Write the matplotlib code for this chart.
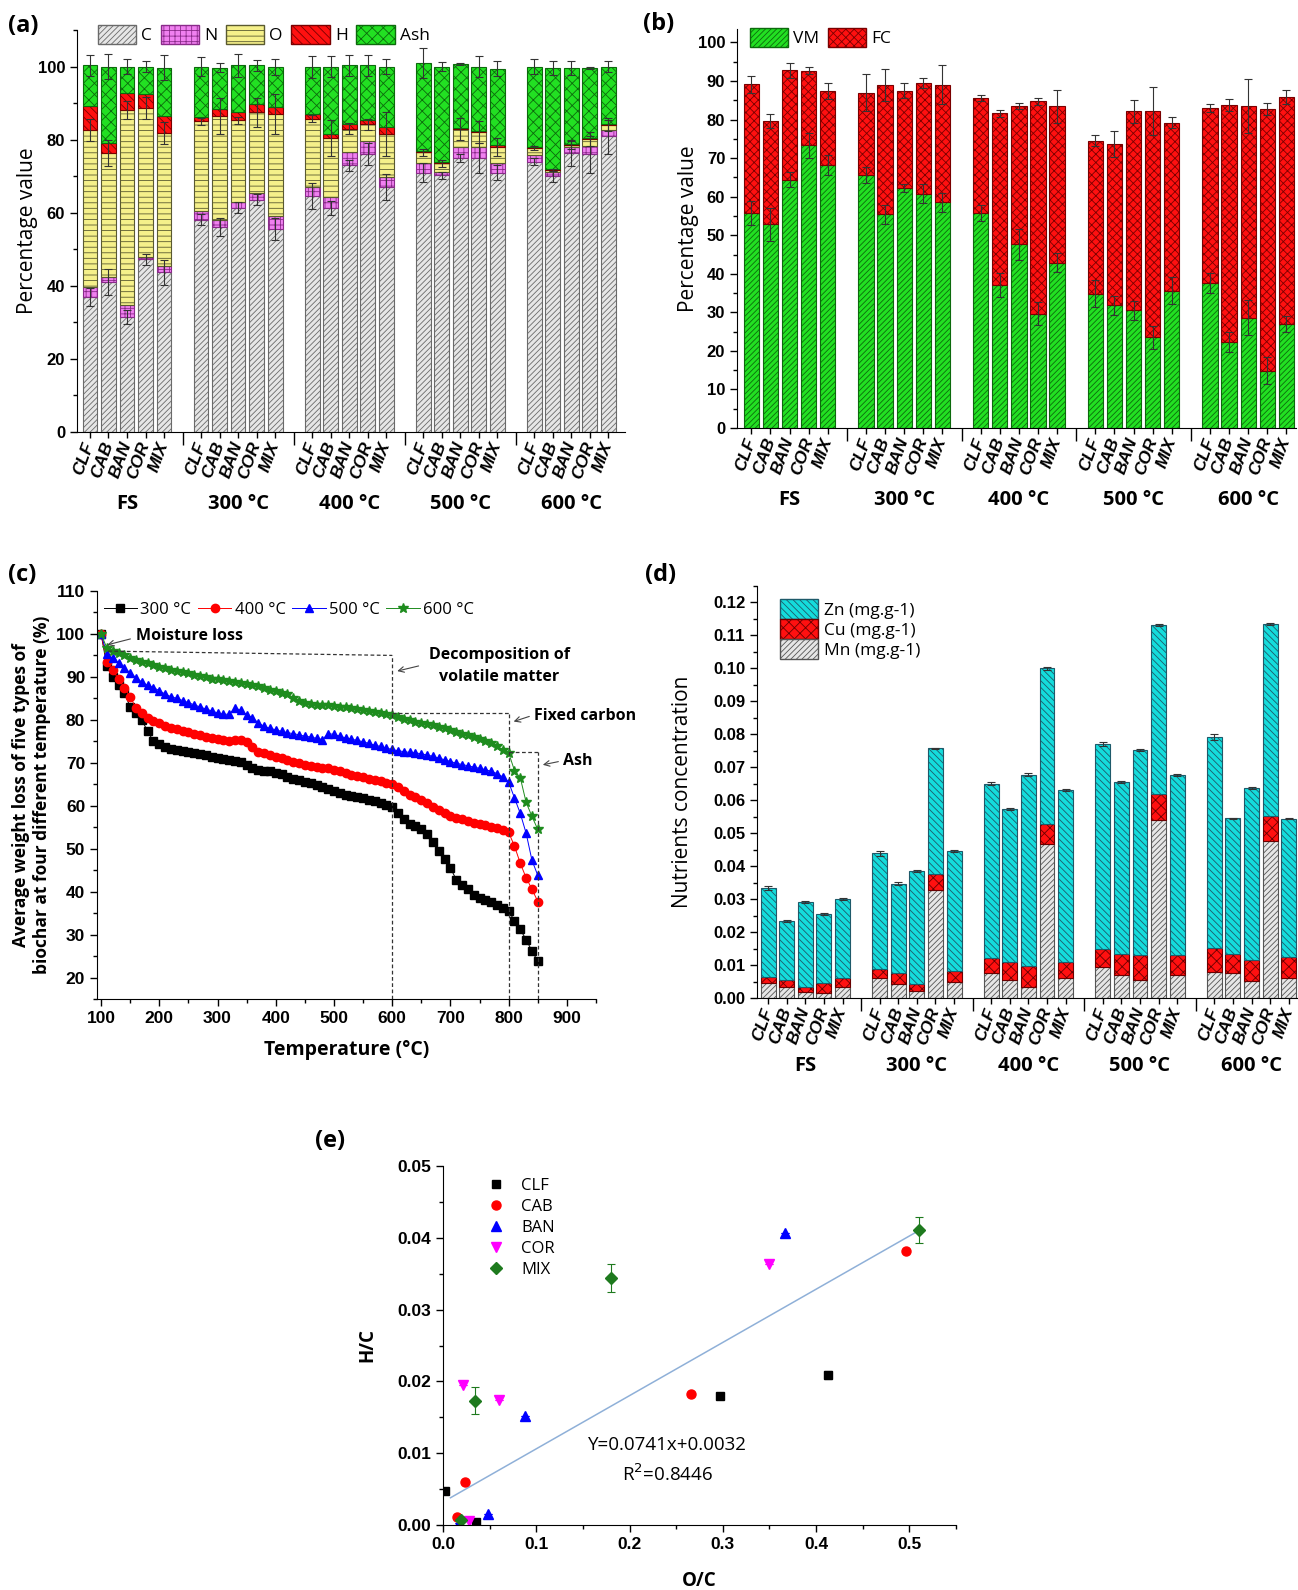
import matplotlib

matplotlib.use("Agg")

import matplotlib.pyplot as plt
import numpy as np
from matplotlib.lines import Line2D
from matplotlib.patches import Patch
from matplotlib.ticker import FormatStrFormatter, MultipleLocator

plt.rcParams["font.family"] = ["Open Sans", "DejaVu Sans"]
plt.rcParams["hatch.linewidth"] = 0.6

W, H = 1298, 1590

grupos = ["FS", "300 °C", "400 °C", "500 °C", "600 °C"]
muestras = ["CLF", "CAB", "BAN", "COR", "MIX"]

# (a) composicion elemental (%), orden: FS, 300, 400, 500, 600
a_C = [37.0, 41.0, 31.5, 47.3, 43.7, 58.1, 56.0, 61.3, 63.5, 55.5,
       64.5, 61.3, 73.0, 76.0, 67.0, 71.0, 70.2, 75.0, 75.0, 71.0,
       74.0, 70.0, 76.3, 76.0, 81.0]
a_N = [2.7, 1.4, 3.2, 0.6, 1.6, 2.4, 2.0, 1.7, 1.9, 3.5,
       2.5, 3.0, 3.5, 3.6, 2.8, 2.5, 1.0, 2.9, 3.0, 2.5,
       1.8, 1.2, 1.6, 2.2, 1.6]
a_O = [43.0, 33.9, 53.5, 40.7, 36.5, 24.5, 28.5, 22.3, 22.1, 28.0,
       18.7, 16.2, 6.5, 4.6, 11.7, 3.0, 2.3, 5.0, 4.2, 4.5,
       2.0, 0.6, 0.6, 2.0, 1.4]
a_H = [6.5, 2.9, 4.5, 3.8, 4.7, 1.3, 2.0, 2.3, 2.3, 2.0,
       1.3, 1.1, 1.2, 1.3, 2.0, 0.4, 0.3, 0.2, 0.3, 0.4,
       0.3, 0.3, 0.4, 0.3, 0.3]
a_ash = [11.1, 20.8, 7.3, 7.6, 13.2, 13.7, 11.2, 12.7, 10.5, 11.0,
         13.0, 18.4, 16.1, 14.8, 16.5, 24.1, 26.2, 17.7, 17.5, 21.0,
         21.9, 27.5, 20.7, 19.2, 15.7]
a_err_C = [2.5, 3.5, 2.0, 1.5, 3.5, 1.5, 2.5, 1.5, 1.5, 3.0,
           3.5, 2.0, 1.5, 3.0, 3.5, 2.5, 1.0, 1.0, 4.0, 2.0,
           1.0, 1.5, 3.5, 5.0, 5.0]
a_err_O = [3.0, 3.5, 2.5, 3.0, 3.0, 1.0, 5.0, 1.0, 4.0, 5.5,
           1.0, 5.0, 1.5, 1.5, 6.0, 1.0, 1.0, 3.0, 3.0, 2.5,
           0.5, 0.3, 1.0, 2.0, 1.5]
a_err_tot = [2.8, 3.3, 2.0, 1.5, 3.5, 2.5, 1.2, 3.2, 1.5, 2.2,
             3.0, 2.8, 2.8, 2.8, 2.0, 4.0, 1.2, 0.3, 2.8, 2.0,
             2.0, 2.0, 2.0, 0.3, 1.5]

# (b) analisis proximo (%)
b_VM = [55.8, 52.8, 64.4, 73.3, 68.2, 65.6, 55.4, 62.3, 60.8, 58.5,
        55.8, 37.1, 47.6, 29.6, 42.9, 34.8, 31.8, 30.5, 23.5, 35.6,
        37.6, 22.3, 28.6, 14.8, 27.0]
b_FC = [33.4, 26.9, 28.4, 19.4, 19.2, 21.4, 33.5, 25.2, 28.7, 30.6,
        29.9, 44.5, 36.0, 55.1, 40.5, 39.7, 41.9, 51.7, 58.8, 43.6,
        45.4, 61.5, 55.0, 67.9, 58.8]
b_err_VM = [3.2, 4.2, 2.0, 3.2, 2.5, 2.0, 2.5, 1.0, 2.5, 2.5,
            2.0, 3.0, 4.0, 3.0, 2.5, 3.5, 2.5, 2.5, 3.0, 3.5,
            2.5, 2.5, 4.5, 3.5, 2.0]
b_err_tot = [2.2, 1.8, 1.9, 1.0, 2.1, 4.8, 4.2, 2.0, 1.3, 5.0,
             0.8, 0.8, 0.8, 0.8, 4.3, 1.4, 3.3, 3.0, 6.2, 1.5,
             1.0, 1.5, 7.0, 1.6, 1.8]

# (c) perdida de peso promedio (%) cada 10 °C
temperatura = list(range(100, 860, 10))
tg_300 = [100.0, 92.5, 90.0, 88.2, 86.3, 83.0, 81.5, 80.0, 77.3, 75.0,
          74.3, 73.7, 73.3, 73.0, 72.8, 72.6, 72.3, 72.0, 71.7, 71.4,
          71.0, 70.8, 70.6, 70.4, 70.2, 69.6, 68.8, 68.4, 68.2, 68.0,
          67.7, 67.3, 66.8, 66.3, 66.0, 65.6, 65.2, 64.8, 64.4, 64.0,
          63.4, 62.9, 62.6, 62.3, 62.0, 61.7, 61.3, 61.0, 60.6, 60.2,
          59.6, 58.2, 57.0, 55.8, 55.2, 54.5, 53.5, 51.5, 49.5, 47.5,
          45.5, 42.8, 41.5, 40.5, 39.2, 38.5, 38.0, 37.6, 37.0, 36.3,
          35.5, 33.2, 31.2, 28.8, 26.2, 23.8]
tg_400 = [100.0, 93.5, 91.5, 89.5, 87.5, 85.3, 82.8, 81.5, 80.5, 79.8,
          79.2, 78.6, 78.2, 77.8, 77.5, 77.2, 76.8, 76.4, 76.1, 75.8,
          75.5, 75.3, 75.1, 75.4, 75.4, 74.8, 73.6, 72.6, 72.2, 71.8,
          71.4, 71.0, 70.6, 70.2, 69.9, 69.6, 69.3, 69.1, 68.9, 68.7,
          68.4, 68.0, 67.6, 67.2, 66.9, 66.6, 66.3, 66.0, 65.7, 65.4,
          65.0, 64.3, 63.4, 62.6, 62.0, 61.4, 60.6, 59.8, 59.0, 58.3,
          57.7, 57.2, 56.8, 56.4, 56.0, 55.7, 55.4, 55.1, 54.8, 54.4,
          53.8, 50.6, 46.6, 43.2, 40.6, 37.7]
tg_500 = [100.0, 95.3, 94.3, 93.3, 92.0, 91.0, 89.8, 88.8, 88.0, 87.5,
          86.8, 86.0, 85.4, 85.0, 84.5, 84.0, 83.5, 83.0, 82.5, 82.1,
          81.6, 81.3, 81.3, 82.8, 82.2, 81.2, 80.5, 79.3, 78.5, 78.0,
          77.7, 77.3, 77.0, 76.8, 76.5, 76.2, 76.0, 75.7, 75.4, 76.8,
          76.6, 76.2, 75.8, 75.5, 75.2, 74.9, 74.5, 74.1, 73.8, 73.4,
          73.1, 72.8, 72.6, 72.4, 72.3, 72.1, 71.8, 71.5, 71.1, 70.7,
          70.3, 69.9, 69.6, 69.3, 69.0, 68.7, 68.4, 68.0, 67.5, 66.7,
          65.5, 61.8, 58.2, 53.6, 47.3, 43.8]
tg_600 = [100.0, 96.7, 96.0, 95.5, 95.0, 94.5, 94.0, 93.5, 93.2, 92.8,
          92.4, 92.0, 91.7, 91.4, 91.1, 90.8, 90.5, 90.2, 89.9, 89.6,
          89.4, 89.2, 89.0, 88.8, 88.6, 88.4, 88.2, 87.8, 87.4, 87.0,
          86.7, 86.3, 86.0, 85.2, 84.3, 84.0, 83.7, 83.5, 83.4, 83.4,
          83.3, 83.1, 82.9, 82.7, 82.5, 82.3, 82.1, 81.9, 81.7, 81.4,
          81.1, 80.7, 80.3, 79.9, 79.6, 79.3, 79.0, 78.7, 78.4, 78.0,
          77.6, 77.2, 76.8, 76.4, 76.0, 75.6, 75.1, 74.5, 73.8, 73.0,
          72.3, 68.2, 66.5, 60.8, 57.5, 54.5]
etapas_T = [600, 800, 850]
etapas_nivel = [95.0, 81.5, 72.6]

# (d) nutrientes (mg/g)
d_Mn = [0.0047, 0.0032, 0.0017, 0.0014, 0.0034, 0.0060, 0.0041, 0.0021, 0.0328, 0.0049,
        0.0077, 0.0054, 0.0033, 0.0468, 0.0061, 0.0095, 0.0070, 0.0056, 0.0539, 0.0070,
        0.0079, 0.0076, 0.0052, 0.0477, 0.0060]
d_Cu = [0.0018, 0.0023, 0.0015, 0.0031, 0.0026, 0.0027, 0.0034, 0.0022, 0.0049, 0.0034,
        0.0043, 0.0056, 0.0064, 0.0060, 0.0047, 0.0055, 0.0062, 0.0074, 0.0081, 0.0059,
        0.0072, 0.0059, 0.0064, 0.0076, 0.0065]
d_Zn = [0.0270, 0.0180, 0.0258, 0.0210, 0.0240, 0.0352, 0.0272, 0.0343, 0.0380, 0.0363,
        0.0530, 0.0463, 0.0581, 0.0472, 0.0523, 0.0621, 0.0523, 0.0621, 0.0511, 0.0548,
        0.0642, 0.0410, 0.0521, 0.0581, 0.0419]
d_err = [0.0006, 0.0003, 0.0003, 0.0003, 0.0003, 0.0007, 0.0004, 0.0003, 0.0003, 0.0003,
         0.0004, 0.0003, 0.0004, 0.0004, 0.0003, 0.0005, 0.0003, 0.0003, 0.0003, 0.0003,
         0.0009, 0.0002, 0.0003, 0.0003, 0.0002]

# (e) diagrama de van Krevelen
e_series = ["CLF", "CAB", "BAN", "COR", "MIX"]
e_OC = {"CLF": [0.002, 0.035, 0.297, 0.413],
        "CAB": [0.015, 0.024, 0.266, 0.496],
        "BAN": [0.017, 0.048, 0.088, 0.367],
        "COR": [0.021, 0.028, 0.060, 0.350],
        "MIX": [0.019, 0.034, 0.180, 0.510]}
e_HC = {"CLF": [0.0047, 0.0004, 0.0180, 0.0209],
        "CAB": [0.0011, 0.0060, 0.0182, 0.0381],
        "BAN": [0.0003, 0.0016, 0.0152, 0.0406],
        "COR": [0.0195, 0.0005, 0.0174, 0.0363],
        "MIX": [0.0007, 0.0173, 0.0344, 0.0411]}
e_err = {"CLF": [0, 0, 0.0003, 0.0005],
         "CAB": [0, 0, 0.0003, 0],
         "BAN": [0, 0, 0, 0],
         "COR": [0, 0, 0, 0],
         "MIX": [0, 0.0019, 0.0019, 0.0018]}
ajuste_pend, ajuste_orden = 0.0741, 0.0032
ajuste_x = [0.008, 0.51]


def ejes(fig, izq, arriba, der, abajo):
    # Crea unos ejes a partir de coordenadas en pixeles
    return fig.add_axes([izq / W, 1 - abajo / H, (der - izq) / W, (abajo - arriba) / H])


def estilo(ax):
    ax.spines["top"].set_visible(False)
    ax.spines["right"].set_visible(False)
    ax.tick_params(direction="out", width=1.0, length=5)
    ax.tick_params(which="minor", direction="out", width=1.0, length=3)


def etiquetas_negrita(ax, tam=12):
    for t in ax.get_yticklabels() + ax.get_xticklabels():
        t.set_fontweight("bold")
        t.set_fontfamily("Liberation Sans")
        t.set_fontsize(tam)


def posiciones():
    return np.array([g * 6 + k for g in range(len(grupos)) for k in range(len(muestras))])


def eje_categorias(ax, y_grupo):
    x = posiciones()
    ax.set_xticks(x)
    ax.set_xticklabels(muestras * len(grupos))
    ax.set_xticks([5, 11, 17, 23], minor=True)
    ax.tick_params(axis="x", which="major", length=4)
    ax.tick_params(axis="x", which="minor", length=9)
    for t in ax.get_xticklabels():
        t.set_rotation(70)
        t.set_ha("right")
        t.set_va("center")
        t.set_rotation_mode("anchor")
        t.set_fontweight("bold")
        t.set_fontstyle("italic")
        t.set_fontfamily("Liberation Sans")
        t.set_fontsize(12.5)
    for g, nombre in enumerate(grupos):
        ax.text(g * 6 + 2, y_grupo, nombre, transform=ax.get_xaxis_transform(),
                ha="center", va="center", fontsize=14.5, fontweight="bold")


def leyenda_barras(ax, manijas, **kw):
    ax.legend(handles=manijas, frameon=False, fontsize=12.5, handlelength=2.2, handleheight=1.3,
              columnspacing=0.5, handletextpad=0.3, borderaxespad=0, **kw)


def panel_a(fig):
    ax = ejes(fig, 77, 30, 625, 432)
    x = posiciones()
    capas = [(a_C, "#e6e6e6", "#6a6a6a", "//////", "C"),
             (a_N, "#f080f0", "#8a2b8a", "+++", "N"),
             (a_O, "#f5f08a", "#5a5a30", "---", "O"),
             (a_H, "#ff1010", "#7a0000", "\\\\\\\\", "H"),
             (a_ash, "#22e022", "#0c6a0c", "xxx", "Ash")]
    base = np.zeros(len(x))
    manijas = []
    for vals, cara, borde, trama, nombre in capas:
        ax.bar(x, vals, 0.8, bottom=base, color=cara, edgecolor=borde, hatch=trama, linewidth=0.8)
        base = base + np.array(vals)
        manijas.append(Patch(facecolor=cara, edgecolor=borde, hatch=trama, label=nombre))
    tope_C = np.array(a_C)
    tope_O = tope_C + np.array(a_N) + np.array(a_O)
    for y, e in [(tope_C, a_err_C), (tope_O, a_err_O), (base, a_err_tot)]:
        ax.errorbar(x, y, yerr=e, fmt="none", ecolor="#333333", elinewidth=0.8, capsize=3, capthick=0.8)
    ax.set_xlim(-0.7, 28.9)
    ax.set_ylim(0, 110)
    ax.yaxis.set_major_locator(MultipleLocator(20))
    ax.yaxis.set_minor_locator(MultipleLocator(10))
    estilo(ax)
    etiquetas_negrita(ax)
    eje_categorias(ax, -0.18)
    ax.set_ylabel("Percentage value", fontsize=15)
    ax.yaxis.set_label_coords(-0.072, 0.5)
    leyenda_barras(ax, manijas, ncol=5, loc="upper left", bbox_to_anchor=(0.025, 1.03))
    fig.text(8 / W, 1 - 26 / H, "(a)", fontsize=17, fontweight="bold", va="center")


def panel_b(fig):
    ax = ejes(fig, 737, 29, 1296, 428)
    x = posiciones()
    ax.bar(x, b_VM, 0.8, color="#22e022", edgecolor="#0c6a0c", hatch="//////", linewidth=0.8)
    ax.bar(x, b_FC, 0.8, bottom=b_VM, color="#ff1010", edgecolor="#7a0000", hatch="xxxx", linewidth=0.8)
    total = np.array(b_VM) + np.array(b_FC)
    ax.errorbar(x, b_VM, yerr=b_err_VM, fmt="none", ecolor="#333333", elinewidth=0.8, capsize=3, capthick=0.8)
    ax.errorbar(x, total, yerr=b_err_tot, fmt="none", ecolor="#333333", elinewidth=0.8, capsize=3, capthick=0.8)
    ax.set_xlim(-0.75, 28.5)
    ax.set_ylim(0, 103.5)
    ax.yaxis.set_major_locator(MultipleLocator(10))
    ax.yaxis.set_minor_locator(MultipleLocator(5))
    estilo(ax)
    etiquetas_negrita(ax)
    eje_categorias(ax, -0.18)
    ax.set_ylabel("Percentage value", fontsize=15)
    ax.yaxis.set_label_coords(-0.068, 0.5)
    manijas = [Patch(facecolor="#22e022", edgecolor="#0c6a0c", hatch="//////", label="VM"),
               Patch(facecolor="#ff1010", edgecolor="#7a0000", hatch="xxxx", label="FC")]
    leyenda_barras(ax, manijas, ncol=2, loc="upper left", bbox_to_anchor=(0.01, 1.02))
    fig.text(643 / W, 1 - 24 / H, "(b)", fontsize=17, fontweight="bold", va="center")


def panel_c(fig):
    ax = ejes(fig, 97, 591, 596, 999)
    series = [(tg_300, "black", "s", "300 °C"),
              (tg_400, "#ff0000", "o", "400 °C"),
              (tg_500, "#0000ff", "^", "500 °C"),
              (tg_600, "#1e8c1e", "*", "600 °C")]
    for vals, color, marca, nombre in series:
        ms = 7.5 if marca == "*" else 6
        ax.plot(temperatura, vals, color=color, lw=0.7, marker=marca, ms=ms, label=nombre)
    # lineas de etapas
    kw = dict(color="#333333", lw=0.9, ls=(0, (3, 2)))
    ax.plot([112, etapas_T[0]], [96.0, etapas_nivel[0]], **kw)
    ax.plot([etapas_T[0], etapas_T[1]], [etapas_nivel[1], etapas_nivel[1]], **kw)
    ax.plot([etapas_T[1], etapas_T[2]], [etapas_nivel[2], etapas_nivel[2]], **kw)
    for T, nivel in zip(etapas_T, etapas_nivel):
        ax.plot([T, T], [15, nivel], **kw)
    flecha = dict(arrowstyle="->", color="#444444", lw=0.8)
    ax.annotate("", xy=(106, 97.3), xytext=(155, 99.0), arrowprops=flecha)
    ax.text(160, 99.5, "Moisture loss", fontsize=11.5, fontweight="bold", va="center")
    ax.annotate("", xy=(604, 91.2), xytext=(650, 92.7), arrowprops=flecha)
    ax.text(784, 92.5, "Decomposition of\nvolatile matter", fontsize=11.5, fontweight="bold",
            ha="center", va="center", linespacing=1.5)
    ax.annotate("", xy=(804, 79.4), xytext=(840, 81.0), arrowprops=flecha)
    ax.text(844, 81.0, "Fixed carbon", fontsize=11.5, fontweight="bold", va="center")
    ax.annotate("", xy=(854, 69.4), xytext=(890, 70.4), arrowprops=flecha)
    ax.text(893, 70.4, "Ash", fontsize=11.5, fontweight="bold", va="center")
    ax.set_xlim(93, 950)
    ax.set_ylim(15, 110)
    ax.xaxis.set_major_locator(MultipleLocator(100))
    ax.xaxis.set_minor_locator(MultipleLocator(50))
    ax.yaxis.set_major_locator(MultipleLocator(10))
    ax.yaxis.set_minor_locator(MultipleLocator(5))
    estilo(ax)
    etiquetas_negrita(ax, 12.5)
    ax.set_xlabel("Temperature (°C)", fontsize=14, fontweight="bold", labelpad=10)
    ax.set_ylabel("Average weight loss of five types of\nbiochar at four different temperature (%)",
                  fontsize=12.5, fontweight="bold", labelpad=4)
    ax.legend(ncol=4, loc="upper left", bbox_to_anchor=(0.0, 0.99), frameon=False, fontsize=12,
              handlelength=2.0, columnspacing=0.4, handletextpad=0.2, borderaxespad=0)
    fig.text(8 / W, 1 - 575 / H, "(c)", fontsize=17, fontweight="bold", va="center")


def panel_d(fig):
    ax = ejes(fig, 757, 586, 1298, 998)
    x = posiciones()
    mn = np.array(d_Mn)
    cu = np.array(d_Cu)
    ax.bar(x, d_Mn, 0.8, color="#e6e6e6", edgecolor="#555555", hatch="//////", linewidth=0.8)
    ax.bar(x, d_Cu, 0.8, bottom=mn, color="#ff1010", edgecolor="#6a0000", hatch="xxx", linewidth=0.8)
    ax.bar(x, d_Zn, 0.8, bottom=mn + cu, color="#14dcdc", edgecolor="#1e5a6a", hatch="\\\\\\\\\\", linewidth=0.8)
    ax.errorbar(x, mn + cu + np.array(d_Zn), yerr=d_err, fmt="none", ecolor="#333333",
                elinewidth=0.8, capsize=3, capthick=0.8)
    ax.set_xlim(-0.6, 28.5)
    ax.set_ylim(0, 0.125)
    ax.yaxis.set_major_locator(MultipleLocator(0.01))
    ax.yaxis.set_minor_locator(MultipleLocator(0.005))
    ax.yaxis.set_major_formatter(FormatStrFormatter("%.2f"))
    estilo(ax)
    etiquetas_negrita(ax)
    eje_categorias(ax, -0.165)
    ax.set_ylabel("Nutrients concentration", fontsize=15)
    ax.yaxis.set_label_coords(-0.118, 0.5)
    manijas = [Patch(facecolor="#14dcdc", edgecolor="#1e5a6a", hatch="\\\\\\\\\\", label="Zn (mg.g-1)"),
               Patch(facecolor="#ff1010", edgecolor="#6a0000", hatch="xxx", label="Cu (mg.g-1)"),
               Patch(facecolor="#e6e6e6", edgecolor="#555555", hatch="//////", label="Mn (mg.g-1)")]
    ax.legend(handles=manijas, loc="upper left", bbox_to_anchor=(0.03, 0.985), frameon=False,
              fontsize=12.5, handlelength=2.2, handleheight=1.4, handletextpad=0.3, labelspacing=0.0,
              borderaxespad=0)
    fig.text(645 / W, 1 - 575 / H, "(d)", fontsize=17, fontweight="bold", va="center")


def panel_e(fig):
    ax = ejes(fig, 443, 1166, 956, 1525)
    estilos = {"CLF": ("black", "s", 6), "CAB": ("#ff0000", "o", 6.5), "BAN": ("#0000ff", "^", 7),
               "COR": ("#ff00ff", "v", 7), "MIX": ("#1e7a1e", "D", 6)}
    manijas = []
    for nombre in e_series:
        color, marca, ms = estilos[nombre]
        ax.errorbar(e_OC[nombre], e_HC[nombre], yerr=e_err[nombre], fmt=marca, color=color, ms=ms,
                    ecolor=color, elinewidth=0.8, capsize=3, capthick=0.8)
        manijas.append(Line2D([], [], ls="none", marker=marca, color=color, ms=ms, label=nombre))
    ajuste_y = [ajuste_pend * v + ajuste_orden for v in ajuste_x]
    ax.plot(ajuste_x, ajuste_y, color="#8fb0d8", lw=1.1)
    ax.text(0.241, 0.0111, "Y=0.0741x+0.0032", fontsize=13.5, ha="center", va="center")
    ax.text(0.241, 0.0071, "R$^2$=0.8446", fontsize=13.5, ha="center", va="center")
    ax.set_xlim(0, 0.55)
    ax.set_ylim(0, 0.05)
    ax.xaxis.set_major_locator(MultipleLocator(0.1))
    ax.xaxis.set_minor_locator(MultipleLocator(0.05))
    ax.yaxis.set_major_locator(MultipleLocator(0.01))
    ax.yaxis.set_minor_locator(MultipleLocator(0.005))
    ax.xaxis.set_major_formatter(FormatStrFormatter("%.1f"))
    ax.yaxis.set_major_formatter(FormatStrFormatter("%.2f"))
    estilo(ax)
    etiquetas_negrita(ax, 12.5)
    ax.set_xlabel("O/C", fontsize=13.5, fontweight="bold", labelpad=14)
    ax.set_ylabel("H/C", fontsize=13.5, fontweight="bold", labelpad=14)
    ax.legend(handles=manijas, loc="upper left", bbox_to_anchor=(0.065, 0.985), frameon=False,
              fontsize=12, handlelength=1.5, handletextpad=0.8, labelspacing=0.3, borderaxespad=0)
    fig.text(315 / W, 1 - 1141 / H, "(e)", fontsize=17, fontweight="bold", va="center")


fig = plt.figure(figsize=(W / 100, H / 100), dpi=100)
panel_a(fig)
panel_b(fig)
panel_c(fig)
panel_d(fig)
panel_e(fig)
fig.savefig("out.png", dpi=100)
plt.close(fig)
